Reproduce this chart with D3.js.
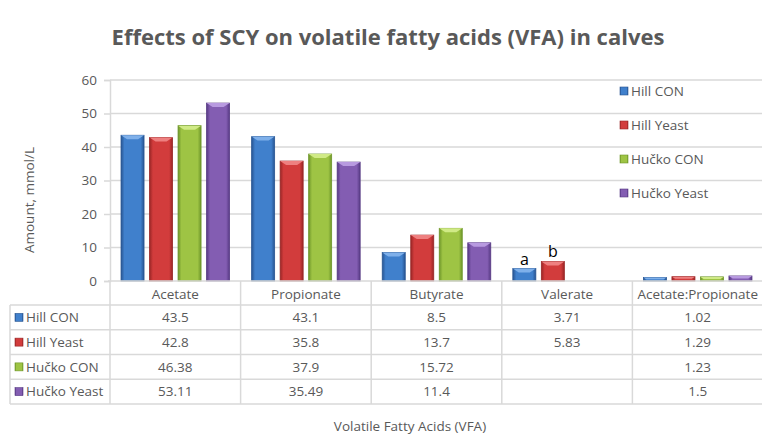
<!DOCTYPE html>
<html>
<head>
<meta charset="utf-8">
<script src="https://cdn.jsdelivr.net/npm/d3@7"></script>
<style>
  body { margin: 0; background: #fff; }
  text { font-family: "Open Sans", "DejaVu Sans", sans-serif; fill: #595959; }
</style>
</head>
<body>
<div id="chart"></div>
<script>
// Chart data
const categories = ['Acetate', 'Propionate', 'Butyrate', 'Valerate', 'Acetate:Propionate'];
const seriesNames = ['Hill CON', 'Hill Yeast', 'Hučko CON', 'Hučko Yeast'];
const hillCon = [43.5, 43.1, 8.5, 3.71, 1.02];
const hillYeast = [42.8, 35.8, 13.7, 5.83, 1.29];
const huckoCon = [46.38, 37.9, 15.72, null, 1.23];
const huckoYeast = [53.11, 35.49, 11.4, null, 1.5];
const yTicks = [0, 10, 20, 30, 40, 50, 60];
const barNotes = [{ series: 'Hill CON', category: 'Valerate', label: 'a' },
                  { series: 'Hill Yeast', category: 'Valerate', label: 'b' }];

const seriesValues = [hillCon, hillYeast, huckoCon, huckoYeast];
const colors = [
  { base: '#4080cc', edge: '#285592', light: '#7fb0ea' },
  { base: '#d23c3c', edge: '#992626', light: '#ee8080' },
  { base: '#9ec444', edge: '#6e962a', light: '#d0ea86' },
  { base: '#835db2', edge: '#573a84', light: '#b89ae0' }
];

const W = 762, H = 439;
const plot = { left: 110, right: 763, top: 80, bottom: 281 };
const rowH = 24.75, headerBottom = 305;
const fs = '13.5px';

const svg = d3.select('#chart').append('svg')
  .attr('width', W).attr('height', H);

// Gradients for the bevelled bar look
const defs = svg.append('defs');
colors.forEach((c, i) => {
  const g = defs.append('linearGradient').attr('id', 'grad' + i)
    .attr('x1', 0).attr('x2', 1).attr('y1', 0).attr('y2', 0);
  g.append('stop').attr('offset', '0%').attr('stop-color', c.edge);
  g.append('stop').attr('offset', '15%').attr('stop-color', c.base);
  g.append('stop').attr('offset', '85%').attr('stop-color', c.base);
  g.append('stop').attr('offset', '100%').attr('stop-color', c.edge);
});

// Scales
const x0 = d3.scaleBand().domain(categories).range([plot.left, plot.right]);
const x1 = d3.scaleBand().domain(seriesNames).range([0, x0.bandwidth()])
  .paddingInner(0.193).paddingOuter(0.387);
const y = d3.scaleLinear().domain([0, 60]).range([plot.bottom, plot.top]);

// Title
svg.append('text')
  .attr('x', 388).attr('y', 45)
  .attr('text-anchor', 'middle')
  .style('font-size', '22px').style('font-weight', 'bold')
  .text('Effects of SCY on volatile fatty acids (VFA) in calves');

// Gridlines
svg.append('g').selectAll('line')
  .data(yTicks.filter(d => d > 0))
  .join('line')
  .attr('x1', plot.left).attr('x2', W)
  .attr('y1', d => y(d)).attr('y2', d => y(d))
  .attr('stroke', '#d9d9d9').attr('stroke-width', 1.5);

// Y axis
const yAxis = svg.append('g')
  .attr('transform', `translate(${plot.left},0)`)
  .call(d3.axisLeft(y).tickValues(yTicks).tickSize(6).tickPadding(7));
yAxis.select('.domain').attr('stroke', '#d9d9d9').attr('stroke-width', 1.5);
yAxis.selectAll('.tick line').attr('stroke', '#d9d9d9').attr('stroke-width', 1.5);
yAxis.selectAll('.tick text')
  .style('font-size', fs).attr('fill', '#595959')
  .style('font-family', '"Open Sans", sans-serif');

svg.append('text')
  .attr('transform', 'translate(34,200) rotate(-90)')
  .attr('text-anchor', 'middle')
  .style('font-size', fs)
  .text('Amount, mmol/L');

// Bars
const bars = [];
seriesValues.forEach((vals, si) => {
  vals.forEach((v, ci) => {
    if (v != null) bars.push({ si, series: seriesNames[si], category: categories[ci], value: v });
  });
});

const barG = svg.append('g');
const bar = barG.selectAll('g').data(bars).join('g')
  .attr('transform', d => `translate(${x0(d.category) + x1(d.series)},0)`);

bar.append('rect')
  .attr('x', 0).attr('width', x1.bandwidth())
  .attr('y', d => y(d.value))
  .attr('height', d => y(0) - y(d.value))
  .attr('fill', d => `url(#grad${d.si})`)
  .attr('stroke', d => colors[d.si].edge).attr('stroke-width', 0.8);

// Top bevel
bar.append('path')
  .attr('d', d => {
    const w = x1.bandwidth(), t = y(d.value);
    const b = Math.min(4, (y(0) - t) / 2);
    return `M0,${t}L${w},${t}L${w - b * 1.5},${t + b}L${b * 1.5},${t + b}Z`;
  })
  .attr('fill', d => colors[d.si].light);

// Bar annotations
svg.append('g').selectAll('text').data(barNotes).join('text')
  .attr('x', d => x0(d.category) + x1(d.series) + x1.bandwidth() / 2)
  .attr('y', d => y(seriesValues[seriesNames.indexOf(d.series)][categories.indexOf(d.category)]) - 4)
  .attr('text-anchor', 'middle')
  .style('font-size', '16px').style('fill', '#000')
  .text(d => d.label);

// Legend
const legend = svg.append('g').selectAll('g').data(seriesNames).join('g')
  .attr('transform', (d, i) => `translate(620,${91 + i * 34})`);
legend.append('rect')
  .attr('x', 0).attr('y', -4).attr('width', 8).attr('height', 8)
  .attr('fill', (d, i) => `url(#grad${i})`)
  .attr('stroke', (d, i) => colors[i].edge).attr('stroke-width', 0.6);
legend.append('text')
  .attr('x', 11).attr('y', 0).attr('dy', '0.35em')
  .style('font-size', fs)
  .text(d => d);

// Data table
const table = svg.append('g');
const lineColor = '#d9d9d9';
const tableBottom = headerBottom + rowH * seriesNames.length;

// Horizontal lines
table.append('line')
  .attr('x1', plot.left - 2).attr('x2', W)
  .attr('y1', plot.bottom).attr('y2', plot.bottom)
  .attr('stroke', lineColor).attr('stroke-width', 1.5);
d3.range(seriesNames.length + 1).forEach(i => {
  table.append('line')
    .attr('x1', 10).attr('x2', W)
    .attr('y1', headerBottom + i * rowH).attr('y2', headerBottom + i * rowH)
    .attr('stroke', lineColor).attr('stroke-width', 1.5);
});

// Vertical lines
table.append('line')
  .attr('x1', 10).attr('x2', 10)
  .attr('y1', headerBottom).attr('y2', tableBottom)
  .attr('stroke', lineColor).attr('stroke-width', 1.5);
categories.forEach(c => {
  table.append('line')
    .attr('x1', x0(c)).attr('x2', x0(c))
    .attr('y1', plot.bottom).attr('y2', tableBottom)
    .attr('stroke', lineColor).attr('stroke-width', 1.5);
});

// Category headers
table.selectAll('text.cat').data(categories).join('text')
  .attr('class', 'cat')
  .attr('x', d => x0(d) + x0.bandwidth() / 2)
  .attr('y', (plot.bottom + headerBottom) / 2 + 1)
  .attr('dy', '0.35em')
  .attr('text-anchor', 'middle')
  .style('font-size', fs)
  .text(d => d);

// Row labels with keys
const rows = table.selectAll('g.row').data(seriesNames).join('g')
  .attr('class', 'row')
  .attr('transform', (d, i) => `translate(0,${headerBottom + i * rowH + rowH / 2})`);
rows.append('rect')
  .attr('x', 15).attr('y', -4).attr('width', 8).attr('height', 8)
  .attr('fill', (d, i) => `url(#grad${i})`)
  .attr('stroke', (d, i) => colors[i].edge).attr('stroke-width', 0.6);
rows.append('text')
  .attr('x', 26).attr('dy', '0.35em')
  .style('font-size', fs)
  .text(d => d);

// Values
rows.each(function(name, si) {
  d3.select(this).selectAll('text.val')
    .data(seriesValues[si].map((v, ci) => ({ v, c: categories[ci] })).filter(d => d.v != null))
    .join('text')
    .attr('class', 'val')
    .attr('x', d => x0(d.c) + x0.bandwidth() / 2)
    .attr('dy', '0.35em')
    .attr('text-anchor', 'middle')
    .style('font-size', fs)
    .text(d => d.v);
});

// X axis title
svg.append('text')
  .attr('x', 410).attr('y', 431)
  .attr('text-anchor', 'middle')
  .style('font-size', fs)
  .text('Volatile Fatty Acids (VFA)');
</script>
</body>
</html>
